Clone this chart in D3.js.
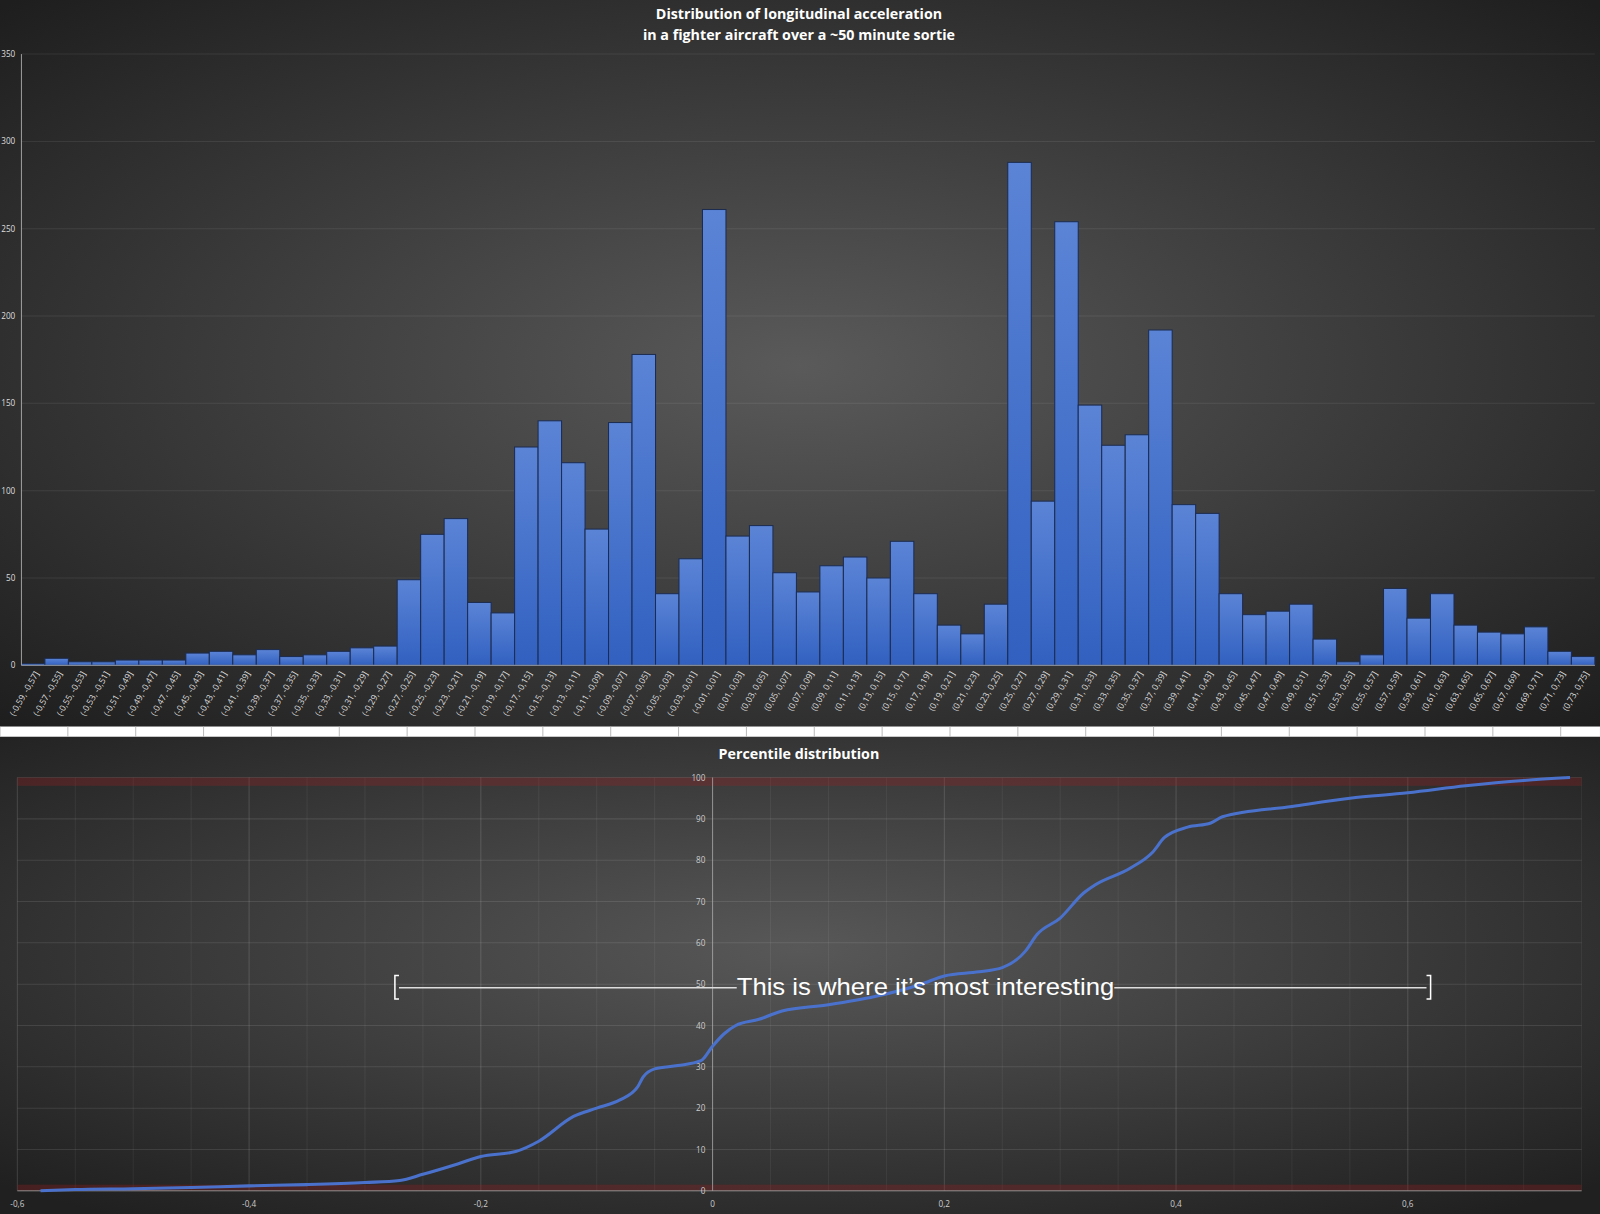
<!DOCTYPE html>
<html><head><meta charset="utf-8">
<script src="https://cdn.jsdelivr.net/npm/d3@7"></script>
<style>body{margin:0;background:#222;}svg{display:block;font-family:"Open Sans",sans-serif;}</style>
</head><body>
<svg id="c" width="1600" height="1214"></svg>
<script>
const binStarts = d3.range(67).map(i => +(-0.59 + 0.02*i).toFixed(2));
const counts = [1,4,2,2,3,3,3,7,8,6,9,5,6,8,10,11,49,75,84,36,30,125,140,116,78,139,178,41,61,261,74,80,53,42,57,62,50,71,41,23,18,35,288,94,254,149,126,132,192,92,87,41,29,31,35,15,2,6,44,27,41,23,19,18,22,8,5];
const yTicksTop = [0,50,100,150,200,250,300,350];
const pctX = [-0.58,-0.55,-0.5,-0.45,-0.4,-0.35,-0.3,-0.27,-0.25,-0.22,-0.2,-0.17,-0.15,-0.12,-0.1,-0.08,-0.065,-0.06,-0.05,-0.03,-0.01,0,0.01,0.02,0.04,0.06,0.1,0.14,0.18,0.2,0.23,0.25,0.27,0.28,0.3,0.32,0.33,0.36,0.38,0.39,0.41,0.43,0.44,0.5,0.55,0.6,0.65,0.7,0.74];
const pctY = [0,0.3,0.5,0.8,1.2,1.5,2,2.5,4,6.5,8.3,9.5,12,18,20,22,25,27.5,29.5,30.3,31.5,35,38,40,41.5,43.5,45,47,50,52,53,54,58,62,66,72,74,78,82,85.5,88,89,90.5,93,95,96.3,98,99.3,100];
const xTicksBottom = [-0.6,-0.4,-0.2,0,0.2,0.4,0.6];
const yTicksBottom = d3.range(0,101,10);
const fmt = v => String(+v.toFixed(2)).replace('.',',');

const root = d3.select('#c');
const defs = root.append('defs');
const rg = defs.append('radialGradient').attr('id','bg').attr('cx','50%').attr('cy','50%').attr('r','70%');
rg.append('stop').attr('offset','0%').attr('stop-color','#5a5a5a');
rg.append('stop').attr('offset','100%').attr('stop-color','#1e1e1e');
const bg2 = defs.append('radialGradient').attr('id','bg2').attr('cx','50%').attr('cy','45%').attr('r','70%');
bg2.append('stop').attr('offset','0%').attr('stop-color','#585858');
bg2.append('stop').attr('offset','100%').attr('stop-color','#202020');
const barG = defs.append('linearGradient').attr('id','barg').attr('x1',0).attr('x2',0).attr('y1',0).attr('y2',1);
barG.append('stop').attr('offset','0%').attr('stop-color','#5b84d6');
barG.append('stop').attr('offset','100%').attr('stop-color','#3160c0');

const svg = root.append('g').attr('transform','scale(1.0204)');
svg.append('rect').attr('width',1568).attr('height',717).attr('fill','url(#bg)');
svg.append('rect').attr('y',717).attr('width',1568).attr('height',473).attr('fill','url(#bg2)');

// top chart
const x = d3.scaleBand().domain(binStarts).range([21,1563]).padding(0);
const y = d3.scaleLinear().domain([0,350]).range([652,53]);
svg.append('g').selectAll('line').data(yTicksTop).join('line')
  .attr('x1',21).attr('x2',1563).attr('y1',d=>y(d)).attr('y2',d=>y(d))
  .attr('stroke','#fff').attr('stroke-opacity',0.08);
svg.append('g').selectAll('rect').data(counts).join('rect')
  .attr('x',(d,i)=>x(binStarts[i])).attr('width',x.bandwidth())
  .attr('y',d=>y(d)).attr('height',d=>y(0)-y(d))
  .attr('fill','url(#barg)').attr('stroke','#1c2c50').attr('stroke-width',1);
svg.append('line').attr('x1',21).attr('x2',21).attr('y1',53).attr('y2',652).attr('stroke','#bbb').attr('stroke-width',0.8);
svg.append('line').attr('x1',21).attr('x2',1563).attr('y1',652).attr('y2',652).attr('stroke','#bbb').attr('stroke-width',0.8);
svg.append('g').selectAll('text').data(yTicksTop).join('text')
  .attr('x',15).attr('y',d=>y(d)+3).attr('text-anchor','end').attr('font-size',8).attr('fill','#ddd').text(d=>d);
svg.append('g').selectAll('text').data(binStarts).join('text')
  .attr('transform',d=>`translate(${x(d)+x.bandwidth()/2+6},${660}) rotate(-60)`)
  .attr('text-anchor','end').attr('font-size',8.5).attr('fill','#ddd')
  .text(d=>`(${fmt(d)}, ${fmt(d+0.02)}]`);
svg.append('text').attr('x',783).attr('y',19).attr('text-anchor','middle').attr('font-size',14).attr('font-weight','bold').attr('fill','#fff').text('Distribution of longitudinal acceleration');
svg.append('text').attr('x',783).attr('y',39).attr('text-anchor','middle').attr('font-size',14).attr('font-weight','bold').attr('fill','#fff').text('in a fighter aircraft over a ~50 minute sortie');
// white strip
svg.append('rect').attr('x',0).attr('y',712).attr('width',1568).attr('height',10).attr('fill','#fff');
svg.append('g').selectAll('line').data(d3.range(0,1568,66.5)).join('line')
  .attr('x1',d=>d).attr('x2',d=>d).attr('y1',712).attr('y2',722).attr('stroke','#aaa').attr('stroke-width',0.8);

// bottom chart
const bx = d3.scaleLinear().domain([-0.6,0.75]).range([17,1550]);
const by = d3.scaleLinear().domain([0,100]).range([1167,762]);
svg.append('g').selectAll('line').data(d3.range(-0.6,0.76,0.05)).join('line')
  .attr('x1',d=>bx(d)).attr('x2',d=>bx(d)).attr('y1',762).attr('y2',1167)
  .attr('stroke','#fff').attr('stroke-opacity',d=>Math.abs(Math.round(d*10)-d*10)<0.01 && Math.round(d*10)%2===0?0.14:0.06);
svg.append('g').selectAll('line').data(yTicksBottom).join('line')
  .attr('x1',17).attr('x2',1550).attr('y1',d=>by(d)).attr('y2',d=>by(d))
  .attr('stroke','#fff').attr('stroke-opacity',0.1);
svg.append('rect').attr('x',17).attr('width',1533).attr('y',by(100)).attr('height',by(98)-by(100)).attr('fill','#a02020').attr('opacity',0.3);
svg.append('rect').attr('x',17).attr('width',1533).attr('y',by(1.5)).attr('height',by(0)-by(1.5)).attr('fill','#a02020').attr('opacity',0.3);
svg.append('line').attr('x1',bx(0)).attr('x2',bx(0)).attr('y1',762).attr('y2',1167).attr('stroke','#aaa').attr('stroke-width',0.7);
svg.append('line').attr('x1',17).attr('x2',1550).attr('y1',1167).attr('y2',1167).attr('stroke','#aaa').attr('stroke-width',0.7);
svg.append('g').selectAll('text').data(yTicksBottom).join('text')
  .attr('x',bx(0)-7).attr('y',d=>by(d)+3).attr('text-anchor','end').attr('font-size',8).attr('fill','#ccc').text(d=>d);
svg.append('g').selectAll('text').data(xTicksBottom).join('text')
  .attr('x',d=>bx(d)).attr('y',1183).attr('text-anchor','middle').attr('font-size',8).attr('fill','#ccc').text(d=>fmt(d));
const pts = pctX.map((v,i)=>[v,pctY[i]]);
svg.append('path').datum(pts).attr('fill','none').attr('stroke','#4a72cc').attr('stroke-width',3)
  .attr('d',d3.line().x(d=>bx(d[0])).y(d=>by(d[1])).curve(d3.curveMonotoneX));
svg.append('text').attr('x',783).attr('y',744).attr('text-anchor','middle').attr('font-size',14).attr('font-weight','bold').attr('fill','#fff').text('Percentile distribution');
// annotation
const ay = 967;
svg.append('path').attr('d',`M391,${ay-11} L387,${ay-11} L387,${ay+12} L391,${ay+12}`).attr('fill','none').attr('stroke','#fff').attr('stroke-width',1.5);
svg.append('path').attr('d',`M1398,${ay-11} L1402,${ay-11} L1402,${ay+12} L1398,${ay+12}`).attr('fill','none').attr('stroke','#fff').attr('stroke-width',1.5);
svg.append('line').attr('x1',391).attr('x2',722).attr('y1',ay+1).attr('y2',ay+1).attr('stroke','#ddd').attr('stroke-width',1.5);
svg.append('line').attr('x1',1092).attr('x2',1398).attr('y1',ay+1).attr('y2',ay+1).attr('stroke','#ddd').attr('stroke-width',1.5);
svg.append('text').attr('x',907).attr('y',ay+8).attr('text-anchor','middle').attr('font-size',24).attr('textLength',370).attr('lengthAdjust','spacingAndGlyphs').attr('font-family','"Liberation Sans",sans-serif').attr('fill','#fff').text('This is where it’s most interesting');
</script></body></html>
